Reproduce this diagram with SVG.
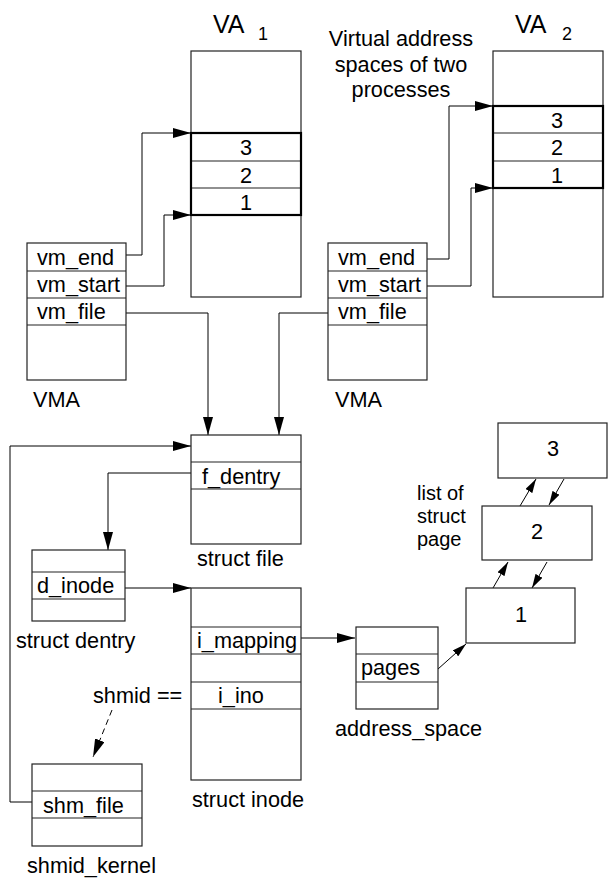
<svg xmlns="http://www.w3.org/2000/svg" width="608" height="878" viewBox="0 0 608 878">
<defs>
<style>
text{font-family:"Liberation Sans",Arial,sans-serif;font-size:21.7px;fill:#000}
.big{font-size:25px}
.sub{font-size:18px}
.mid{text-anchor:middle}
.lbl{font-size:20px}
.box{fill:#fff;stroke:#222;stroke-width:1.2}
.row{stroke:#222;stroke-width:1.2;fill:none}
.band{fill:none;stroke:#000;stroke-width:2.2}
.c{fill:none;stroke:#000;stroke-width:1}
.a{marker-end:url(#ah)}
.s{marker-end:url(#sh)}
</style>
<marker id="ah" markerUnits="userSpaceOnUse" markerWidth="18" markerHeight="10" refX="18" refY="5" orient="auto"><path d="M0,0 L18,5 L0,10 z" fill="#000"/></marker>
<marker id="sh" markerUnits="userSpaceOnUse" markerWidth="14" markerHeight="8" refX="14" refY="4" orient="auto"><path d="M0,0 L14,4 L0,8 z" fill="#000"/></marker>
</defs>
<rect width="608" height="878" fill="#fff"/>

<g id="connectors">
<path class="c a" d="M126,255 H142 V133 H191"/>
<path class="c a" d="M126,286 H164 V215 H191"/>
<path class="c a" d="M126,313 H208 V435"/>
<path class="c a" d="M328,313 H279 V435"/>
<path class="c a" d="M427,259 H449 V106 H493"/>
<path class="c a" d="M427,286 H471 V188 H493"/>
<path class="c a" d="M32,802 H10 V446 H191"/>
<path class="c a" d="M191,473 H108 V550"/>
<path class="c a" d="M125,588 H191"/>
<path class="c a" d="M301,638 H355"/>
<path class="c s" d="M438,669 L466,644"/>
<path class="c s" d="M493,588 L508,562"/>
<path class="c s" d="M547,562 L532,588"/>
<path class="c s" d="M520,506 L536,479"/>
<path class="c s" d="M564,479 L549,505"/>
<path class="c a" d="M112,710 L93,757" stroke-dasharray="6,4"/>
</g>

<g id="va1">
<rect class="box" x="191" y="51" width="110" height="246"/>
<path class="row" d="M191,161 H301 M191,188 H301"/>
<rect class="band" x="191" y="133" width="110" height="82"/>
<text class="mid" x="246" y="155">3</text>
<text class="mid" x="246" y="183">2</text>
<text class="mid" x="246" y="210">1</text>
<text class="big" x="213" y="33">VA</text>
<text class="sub" x="258" y="40">1</text>
</g>

<g id="va2">
<rect class="box" x="493" y="51" width="110" height="246"/>
<path class="row" d="M493,133 H603 M493,161 H603"/>
<rect class="band" x="493" y="106" width="110" height="82"/>
<text class="mid" x="557" y="128">3</text>
<text class="mid" x="557" y="155">2</text>
<text class="mid" x="557" y="183">1</text>
<text class="big" x="515" y="33">VA</text>
<text class="sub" x="562" y="40">2</text>
</g>

<g id="caption">
<text class="mid" x="401" y="46">Virtual address</text>
<text class="mid" x="401" y="72">spaces of two</text>
<text class="mid" x="401" y="97">processes</text>
</g>

<g id="vma1">
<rect class="box" x="27" y="243" width="99" height="137"/>
<path class="row" d="M27,271 H126 M27,298 H126 M27,325 H126"/>
<text x="37" y="265">vm_end</text>
<text x="37" y="292">vm_start</text>
<text x="37" y="319">vm_file</text>
<text x="33" y="407">VMA</text>
</g>

<g id="vma2">
<rect class="box" x="328" y="243" width="99" height="137"/>
<path class="row" d="M328,271 H427 M328,298 H427 M328,325 H427"/>
<text x="338" y="265">vm_end</text>
<text x="338" y="292">vm_start</text>
<text x="338" y="319">vm_file</text>
<text x="335" y="407">VMA</text>
</g>

<g id="struct_file">
<rect class="box" x="191" y="435" width="110" height="109"/>
<path class="row" d="M191,462 H301 M191,489 H301"/>
<text x="202" y="484">f_dentry</text>
<text x="197" y="566">struct file</text>
</g>

<g id="struct_dentry">
<rect class="box" x="32" y="550" width="93" height="71"/>
<path class="row" d="M32,572 H125 M32,599 H125"/>
<text x="37" y="593">d_inode</text>
<text x="16" y="648">struct dentry</text>
</g>

<g id="struct_inode">
<rect class="box" x="191" y="588" width="110" height="192"/>
<path class="row" d="M191,627 H301 M191,654 H301 M191,682 H301 M191,709 H301"/>
<text x="197" y="648">i_mapping</text>
<text x="218" y="703">i_ino</text>
<text x="192" y="807">struct inode</text>
</g>

<g id="shmid_label">
<text x="93" y="703">shmid ==</text>
</g>

<g id="shmid_kernel">
<rect class="box" x="32" y="764" width="110" height="82"/>
<path class="row" d="M32,791 H142 M32,818 H142"/>
<text x="43" y="813">shm_file</text>
<text x="27" y="873">shmid_kernel</text>
</g>

<g id="address_space">
<rect class="box" x="356" y="627" width="82" height="82"/>
<path class="row" d="M356,654 H438 M356,682 H438"/>
<text x="361" y="675">pages</text>
<text x="335" y="736">address_space</text>
</g>

<g id="page1">
<rect class="box" x="466" y="588" width="109" height="55"/>
<text class="mid" x="521" y="622">1</text>
</g>
<g id="page2">
<rect class="box" x="482" y="506" width="110" height="54"/>
<text class="mid" x="537" y="539">2</text>
</g>
<g id="page3">
<rect class="box" x="498" y="423" width="109" height="55"/>
<text class="mid" x="553" y="456">3</text>
</g>

<g id="page_label">
<text class="lbl" x="417" y="500">list of</text>
<text class="lbl" x="417" y="523">struct</text>
<text class="lbl" x="417" y="546">page</text>
</g>
</svg>
